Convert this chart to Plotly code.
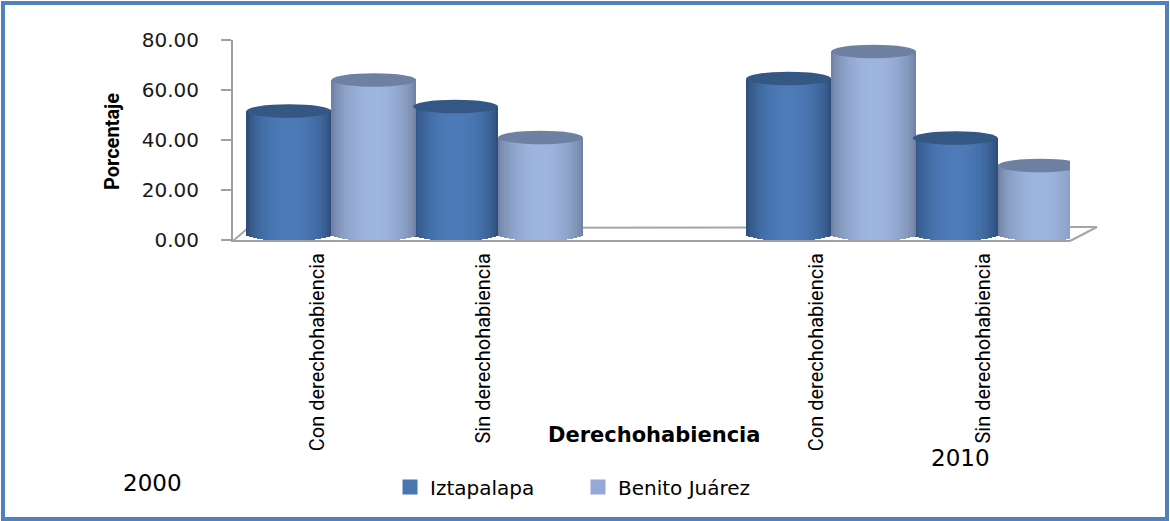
import numpy as np
import plotly.graph_objects as go

# ---------------- data ----------------
categories = ["Con derechohabiencia", "Sin derechohabiencia",
              "Con derechohabiencia", "Sin derechohabiencia"]
category_slots = [0, 1, 3, 4]          # slot 2 is the empty gap between years
year_labels = ["2000", "2010"]
series_names = ["Iztapalapa", "Benito Juárez"]
iztapalapa = [49.2, 51.0, 62.2, 38.4]
benito_juarez = [61.6, 38.6, 73.0, 27.4]
y_ticks = [0, 20, 40, 60, 80]
y_title = "Porcentaje"
x_title = "Derechohabiencia"

# ---------------- layout geometry ----------------
FIG_W, FIG_H = 1170, 521
L, R, T, B = 233, 100, 40, 281
PW, PH = FIG_W - L - R, FIG_H - T - B


def px_x(px):
    return (px - L) / PW


def px_y(py):
    return (T + PH - py) / PH


# cylinder styling
BAR_W = 0.51       # width of one cylinder in category units
SHIFT = 0.086      # 3-D offset of the bar pair from the category centre
DEPTH = 2.4        # vertical 3-D depth offset (axis units)
ELL_H = 2.7        # half height of the ellipses (axis units)
N_STRIPS = 40

styles = {
    "Iztapalapa": dict(dark=(40, 70, 112), light=(76, 123, 184),
                       top="#345783", legend="#4A76B0", offset=SHIFT - BAR_W),
    "Benito Juárez": dict(dark=(104, 120, 152), light=(158, 181, 222),
                          top="#6E81A3", legend="#94AAD5", offset=SHIFT),
}


def shade(style, t):
    s = np.sin(np.pi * t) ** 0.55
    dk, lt = style["dark"], style["light"]
    c = [dk[i] + (lt[i] - dk[i]) * s for i in range(3)]
    return "rgb(%d,%d,%d)" % tuple(int(round(v)) for v in c)


fig = go.Figure()
shapes = []

for name, values in zip(series_names, [iztapalapa, benito_juarez]):
    st = styles[name]
    vals = np.array(values, dtype=float)
    sw = BAR_W / N_STRIPS
    for k in range(N_STRIPS):
        t0 = k / N_STRIPS
        tm = (k + 0.5) / N_STRIPS
        u = 2 * tm - 1
        base = DEPTH - ELL_H * np.sqrt(max(0.0, 1 - u * u))
        width = sw * 1.25 if k < N_STRIPS - 1 else sw
        fig.add_trace(go.Bar(
            x=category_slots,
            y=(vals + DEPTH - base).tolist(),
            base=[base] * len(vals),
            width=width,
            offset=st["offset"] + t0 * BAR_W,
            marker=dict(color=shade(st, tm), line=dict(width=0)),
            name=name,
            showlegend=False,
            legendgroup=name,
            hoverinfo="skip",
        ))
    # legend entry (square swatch)
    fig.add_trace(go.Scatter(
        x=[None], y=[None], mode="markers", name=name, legendgroup=name,
        marker=dict(symbol="square", size=15, color=st["legend"]),
        showlegend=True, hoverinfo="skip"))
    # top faces of the cylinders
    for slot, v in zip(category_slots, vals):
        x0 = slot + st["offset"]
        shapes.append(dict(type="circle", xref="x", yref="y",
                           x0=x0, x1=x0 + BAR_W,
                           y0=v + DEPTH - ELL_H, y1=v + DEPTH + ELL_H,
                           fillcolor=st["top"], line=dict(width=0), layer="above"))

# floor of the 3-D plot (decoration, paper coordinates)
floor_col = "#A6A6A6"
for (xa, ya, xb, yb) in [(248, 228, 1097, 227), (233, 241, 248, 228), (1070, 241, 1097, 227)]:
    shapes.append(dict(type="line", xref="paper", yref="paper",
                       x0=px_x(xa), y0=px_y(ya), x1=px_x(xb), y1=px_y(yb),
                       line=dict(color=floor_col, width=2), layer="below"))

# outer blue frame
shapes.append(dict(type="rect", xref="paper", yref="paper",
                   x0=px_x(3), x1=px_x(1167), y0=px_y(3), y1=px_y(519),
                   line=dict(color="#4F81BD", width=4), fillcolor="rgba(0,0,0,0)",
                   layer="above"))


def ann(text, cx, cy, font, angle=0):
    return dict(text=text, x=px_x(cx), y=px_y(cy), xref="paper", yref="paper",
                xanchor="center", yanchor="middle", showarrow=False,
                textangle=angle, font=font)


annotations = [
    ann(y_title, 112, 141, dict(family="Roboto", size=20, color="#000000", weight="bold"), -90),
    ann(x_title, 654, 435, dict(family="DejaVu Sans", size=21, color="#000000", weight="bold")),
    ann(year_labels[0], 152, 483, dict(family="DejaVu Sans", size=23, color="#000000")),
    ann(year_labels[1], 960, 458, dict(family="DejaVu Sans", size=23, color="#000000")),
]

fig.update_layout(
    width=FIG_W, height=FIG_H,
    margin=dict(l=L, r=R, t=T, b=B, pad=0),
    paper_bgcolor="white", plot_bgcolor="white",
    barmode="overlay",
    bargap=0,
    shapes=shapes,
    annotations=annotations,
    legend=dict(orientation="h", x=px_x(390), y=px_y(487),
                xanchor="left", yanchor="middle",
                font=dict(family="DejaVu Sans", size=20, color="#000000"),
                entrywidth=143, entrywidthmode="pixels",
                itemsizing="trace",
                bgcolor="rgba(0,0,0,0)"),
    xaxis=dict(range=[-0.505, 4.52], tickvals=category_slots, ticktext=categories,
               tickangle=-90, ticks="", showgrid=False, zeroline=False,
               showline=True, linecolor="#A0A0A0", linewidth=2,
               tickfont=dict(family="Roboto", size=20, color="#000000"),
               ticklabelstandoff=3),
    yaxis=dict(range=[0, 80], tickvals=y_ticks, tickformat=".2f",
               ticks="outside", ticklen=10, tickwidth=2, tickcolor="#A0A0A0",
               showline=True, linecolor="#A0A0A0", linewidth=2,
               showgrid=False, zeroline=False,
               tickfont=dict(family="DejaVu Sans", size=20, color="#1a1a1a"),
               ticklabelstandoff=18),
    hovermode=False,
)

fig.write_html("out.html")
